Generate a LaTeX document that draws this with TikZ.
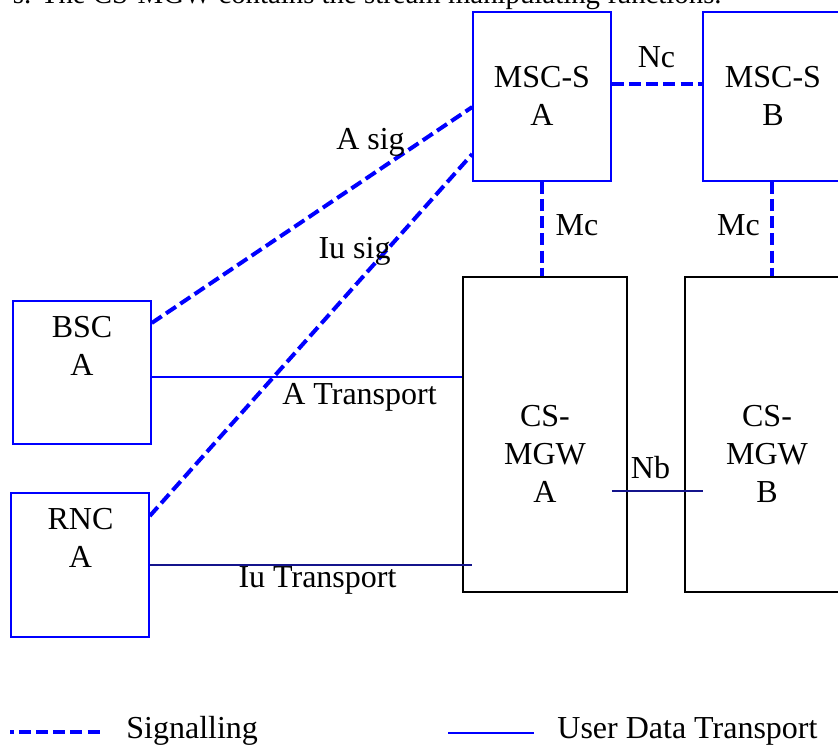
\documentclass[tikz,border=0pt]{standalone}
\usepackage{fontspec}
\setmainfont{Liberation Serif}
\usepackage{tikz}
\usetikzlibrary{fit,calc}
\definecolor{netBlue}{HTML}{0000FF}
\definecolor{udtNavy}{HTML}{14148C}
\tikzset{
  nebox/.style={draw=netBlue,line width=0.75pt,inner sep=0pt},
  gwbox/.style={draw=black,line width=0.75pt,inner sep=0pt},
  siglink/.style={draw=netBlue,line width=2pt,dash pattern=on 6pt off 2.6pt},
  udtlink/.style={draw=netBlue,line width=0.8pt},
  udtnavy/.style={draw=udtNavy,line width=0.8pt},
  lbl/.style={inner sep=0pt,font=\fontsize{16}{19}\selectfont,align=center},
}
\begin{document}
\begin{tikzpicture}[x=0.5pt,y=-0.5pt]
\useasboundingbox (0,0) rectangle (838,745);
% caption line of the page above, cut by the frame
\node[lbl,font=\fontsize{14.4}{17}\selectfont,anchor=base east] (caption) at (722,3.5) {s. The CS-MGW contains the stream manipulating functions.};
% boxes
\node[nebox,fit={(473,12) (611,181)}] (mscA) {};
\node[nebox,fit={(703,12) (844,181)}] (mscB) {};
\node[gwbox,fit={(463,277) (627,592)}] (mgwA) {};
\node[gwbox,fit={(685,277) (850,592)}] (mgwB) {};
\node[nebox,fit={(13,301) (151,444)}] (bscA) {};
\node[nebox,fit={(11,493) (149,637)}] (rncA) {};
\node[lbl] (mscAtxt) at (542,96) {MSC-S\\A};
\node[lbl] (mscBtxt) at (773,96) {MSC-S\\B};
\node[lbl] (mgwAtxt) at (545,454) {CS-\\MGW\\A};
\node[lbl] (mgwBtxt) at (767,454) {CS-\\MGW\\B};
\node[lbl] (bscAtxt) at (82,345.5) {BSC\\A};
\node[lbl] (rncAtxt) at (80.5,537.5) {RNC\\A};
% signalling links
\draw[siglink] (bscA.east |- 0,323) -- (mscA.west |- 0,107);
\draw[siglink] (rncA.east |- 0,516) -- (mscA.west |- 0,154);
\draw[siglink] (mscA.east |- 0,84) -- (mscB.west |- 0,84);
\draw[siglink] (mscA.south -| 542,0) -- (mgwA.north -| 542,0);
\draw[siglink] (mscB.south -| 772,0) -- (mgwB.north -| 772,0);
% user data links
\draw[udtlink] (bscA.east |- 0,377) -- (mgwA.west |- 0,377);
\draw[udtnavy] (rncA.east |- 0,565) -- ($(mgwA.west |- 0,565)+(10,0)$);
\draw[udtnavy] ($(mgwA.east |- 0,491)+(-16,0)$) -- ($(mgwB.west |- 0,491)+(19,0)$);
% link labels
\node[lbl,anchor=base] (asig) at (370.5,149) {A sig};
\node[lbl,anchor=base] (iusig) at (354.5,258) {Iu sig};
\node[lbl,anchor=base] (nc) at (656.5,67) {Nc};
\node[lbl,anchor=base] (mcA) at (577,235) {Mc};
\node[lbl,anchor=base] (mcB) at (738.5,235) {Mc};
\node[lbl,anchor=base] (atr) at (359.5,404) {A Transport};
\node[lbl,anchor=base] (iutr) at (317.5,587) {Iu Transport};
\node[lbl,anchor=base] (nb) at (650.5,478) {Nb};
% legend
\coordinate (sigL) at (10,732);
\coordinate (sigR) at (103,732);
\draw[siglink,dash phase=4.2pt] (sigL) -- (sigR);
\node[lbl,anchor=base west] (sigtxt) at (126,738) {Signalling};
\coordinate (udtL) at (448,733);
\coordinate (udtR) at (534,733);
\draw[udtlink] (udtL) -- (udtR);
\node[lbl,anchor=base west] (udttxt) at (557,738) {User Data Transport};
\end{tikzpicture}
\end{document}
